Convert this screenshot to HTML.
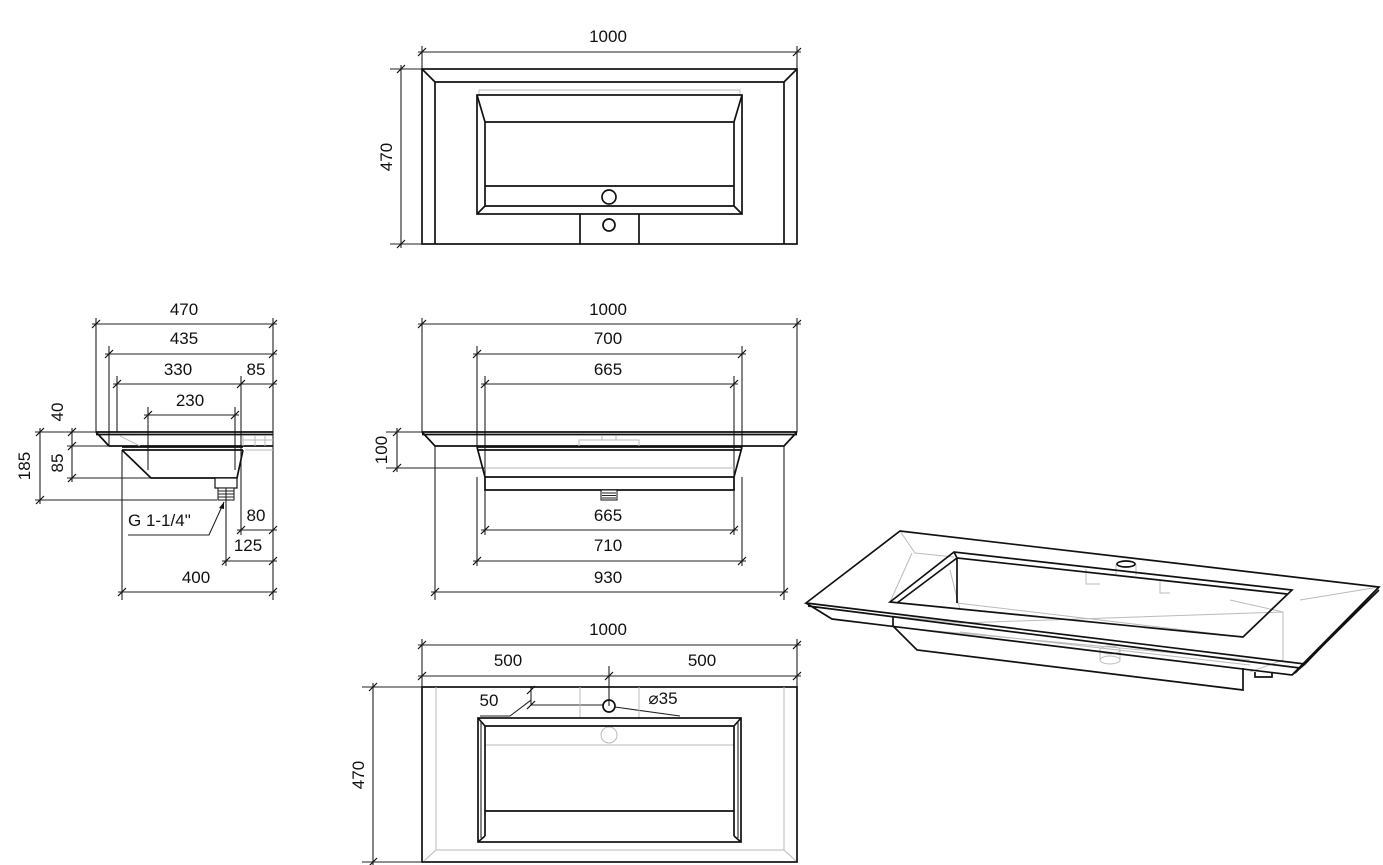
<!DOCTYPE html>
<html><head><meta charset="utf-8"><style>
html,body{margin:0;padding:0;background:#fff;}
svg{display:block;}
text{font-family:"Liberation Sans",sans-serif;font-size:17px;fill:#111;}
.k{stroke:#111;stroke-width:1.7;fill:none;}
.t{stroke:#222;stroke-width:1.1;fill:none;}
.g{stroke:#bbb;stroke-width:1;fill:none;}
</style></head><body>
<svg width="1383" height="865" viewBox="0 0 1383 865" xmlns="http://www.w3.org/2000/svg">
<defs>
<path id="tk" d="M-4,4 L4,-4" stroke="#111" stroke-width="1.2"/>
</defs>

<!-- ================= TOP VIEW ================= -->
<g>
<path class="t" d="M422,46V70 M797,46V70 M418,52H801 M390,69H422 M390,244H422 M401,65V248"/>
<use href="#tk" x="422" y="52"/><use href="#tk" x="797" y="52"/>
<use href="#tk" x="401" y="69"/><use href="#tk" x="401" y="244"/>
<text x="608" y="42" text-anchor="middle">1000</text>
<text transform="translate(392,157) rotate(-90)" text-anchor="middle">470</text>
<rect class="k" x="422" y="69" width="375" height="175"/>
<path class="k" d="M435,244V82H784V244 M422,69L435,82 M797,69L784,82"/>
<path class="g" d="M479,95V90H740V95"/>
<rect class="k" x="477" y="95" width="265" height="119"/>
<path class="k" d="M485,206V122H734V206 M477,95L485,122 M742,95L734,122 M477,214L485,206 M742,214L734,206 M485,206H734"/>
<path class="k" d="M485,186H734"/>
<circle class="k" cx="609" cy="197" r="7"/>
<path class="k" d="M580,214V244 M639,214V244"/>
<circle class="k" cx="609" cy="225" r="6"/>
</g>

<!-- ================= FRONT VIEW ================= -->
<g>
<path class="t" d="M418,324H801 M422,318V432 M797,318V432
 M473,354H746 M477,346V447 M742,346V447
 M481,384H738 M485,376V535 M734,376V535
 M386,432H422 M386,468H485 M397,428V472
 M481,530H738 M473,561H746 M477,477V566 M742,477V566
 M431,592H788 M435,446V600 M784,446V600"/>
<use href="#tk" x="422" y="324"/><use href="#tk" x="797" y="324"/>
<use href="#tk" x="477" y="354"/><use href="#tk" x="742" y="354"/>
<use href="#tk" x="485" y="384"/><use href="#tk" x="734" y="384"/>
<use href="#tk" x="397" y="432"/><use href="#tk" x="397" y="468"/>
<use href="#tk" x="485" y="530"/><use href="#tk" x="734" y="530"/>
<use href="#tk" x="477" y="561"/><use href="#tk" x="742" y="561"/>
<use href="#tk" x="435" y="592"/><use href="#tk" x="784" y="592"/>
<text x="608" y="315" text-anchor="middle">1000</text>
<text x="608" y="344" text-anchor="middle">700</text>
<text x="608" y="375" text-anchor="middle">665</text>
<text x="608" y="521" text-anchor="middle">665</text>
<text x="608" y="551" text-anchor="middle">710</text>
<text x="608" y="583" text-anchor="middle">930</text>
<text transform="translate(387,450) rotate(-90)" text-anchor="middle">100</text>
<path class="k" d="M422,432H797 M422,434.5H797 M422,432L435,446H784L797,432"/>
<path class="g" d="M579,446V440H639V446 M602,440V436 M616,440V436 M485,468H734"/>
<path class="k" d="M477,447H742 M477,450H742 M477,447L485,477H734L742,447 M485,477V490H734V477"/>
<rect x="601" y="490" width="16" height="10" fill="#fff" stroke="#111" stroke-width="1"/>
<path class="t" d="M602,493H616 M602,495.5H616 M602,498H616"/>
</g>

<!-- ================= SIDE VIEW ================= -->
<g>
<path class="t" d="M92,324H277 M96,318V432 M273,318V600
 M105,354H277 M109,346V446
 M113,384H277 M117,376V432 M241,376V535
 M144,415H239 M148,407V470 M235,407V470
 M67,446H109 M67,478H151 M35,432H96 M35,500H217 M72,428V482 M40,428V504
 M237,530H277 M226,500V566 M222,561H277 M122,450V600 M118,592H277"/>
<use href="#tk" x="96" y="324"/><use href="#tk" x="273" y="324"/>
<use href="#tk" x="109" y="354"/><use href="#tk" x="273" y="354"/>
<use href="#tk" x="117" y="384"/><use href="#tk" x="241" y="384"/><use href="#tk" x="273" y="384"/>
<use href="#tk" x="148" y="415"/><use href="#tk" x="235" y="415"/>
<use href="#tk" x="72" y="432"/><use href="#tk" x="72" y="446"/><use href="#tk" x="72" y="478"/>
<use href="#tk" x="40" y="432"/><use href="#tk" x="40" y="500"/>
<use href="#tk" x="241" y="530"/><use href="#tk" x="273" y="530"/>
<use href="#tk" x="226" y="561"/><use href="#tk" x="273" y="561"/>
<use href="#tk" x="122" y="592"/><use href="#tk" x="273" y="592"/>
<text x="184" y="315" text-anchor="middle">470</text>
<text x="184" y="344" text-anchor="middle">435</text>
<text x="178" y="375" text-anchor="middle">330</text>
<text x="256" y="375" text-anchor="middle">85</text>
<text x="190" y="406" text-anchor="middle">230</text>
<text transform="translate(63,412) rotate(-90)" text-anchor="middle">40</text>
<text transform="translate(63,463) rotate(-90)" text-anchor="middle">85</text>
<text transform="translate(30,466) rotate(-90)" text-anchor="middle">185</text>
<text x="256" y="521" text-anchor="middle">80</text>
<text x="248" y="551" text-anchor="middle">125</text>
<text x="196" y="583" text-anchor="middle">400</text>
<text x="128" y="526">G 1-1/4"</text>
<path class="k" d="M96,432H273 M96,434.5H273 M96,432L109,446H273"/>
<path class="g" d="M243,446V436 M255,446V436 M265,446V436 M241,440H273 M245,450H273 M120,436L140,446"/>
<path class="k" d="M122,447H243 M122,450H243 M122,450L151,478H237L243,450"/>
<rect x="215" y="478" width="22" height="10" fill="#fff" stroke="#111" stroke-width="1.2"/>
<rect x="218" y="488" width="16" height="12" fill="#fff" stroke="#111" stroke-width="1"/>
<path class="t" d="M218,491H234 M218,494H234 M218,497H234 M226,488V500"/>
<path class="t" d="M128,535H209L224,502"/>
<path d="M224,502L219,508L224,509Z" fill="#111"/>
</g>

<!-- ================= BOTTOM VIEW ================= -->
<g>
<path class="t" d="M418,645H801 M422,639V687 M797,639V687 M418,676H801 M609,666V706
 M362,687H422 M362,862H422 M373,683V865
 M531,686V705H603 M480,716H510L531,700 M615,707L680,716"/>
<use href="#tk" x="422" y="645"/><use href="#tk" x="797" y="645"/>
<use href="#tk" x="422" y="676"/><use href="#tk" x="609" y="676"/><use href="#tk" x="797" y="676"/>
<use href="#tk" x="373" y="687"/><use href="#tk" x="373" y="862"/>
<use href="#tk" x="531" y="690"/><use href="#tk" x="531" y="705"/>
<text x="608" y="635" text-anchor="middle">1000</text>
<text x="508" y="666" text-anchor="middle">500</text>
<text x="702" y="666" text-anchor="middle">500</text>
<text x="489" y="706" text-anchor="middle">50</text>
<text x="663" y="704" text-anchor="middle">⌀35</text>
<text transform="translate(364,775) rotate(-90)" text-anchor="middle">470</text>
<rect class="k" x="422" y="687" width="375" height="175"/>
<path class="g" d="M436,687V850H784V687 M436,850L424,861 M784,850L796,861 M580,687V718 M639,687V718 M485,745H734"/>
<circle class="g" cx="609" cy="735" r="8"/>
<circle class="k" cx="609" cy="706" r="6"/>
<rect class="k" x="478" y="718" width="263" height="124"/>
<path class="k" d="M485,836V726H734V836 M478,718L485,726 M741,718L734,726 M478,842L485,836 M741,842L734,836 M485,811H734"/>
<path class="t" d="M481,721V838 M738,721V838"/>
</g>

<!-- ================= ISO VIEW ================= -->
<g>
<path class="g" d="M900,531L915,553L954,557 M806,603L830,618 M912,553L890,602 M957,603L1243,637
 M893,616L960,623L1283,612 M950,570L960,610 M893,627L1250,660 M960,632L1250,665 M1230,600L1283,612L1283,660L1250,672
 M1086,569L1086,584L1100,584 M1160,580L1160,593L1170,593 M1116,564V575 M1136,564V575 M1300,600L1379,587"/>
<ellipse class="g" cx="1110" cy="660" rx="10" ry="4"/>
<path class="g" d="M1100,660V650 M1120,660V650"/>
<ellipse class="g" cx="1110" cy="650" rx="10" ry="4"/>
<path class="k" d="M806,603L900,531L1379,587L1305,664Z"/>
<path class="k" d="M806,603L832,619L1292,675L1305,664 M1379,587L1292,675 M1379,590L1295,673 M808,606L1300,668"/>
<path class="k" d="M890,602L954,552L1292,590L1243,637Z"/>
<path class="k" d="M954,552L957,558L1287,594 M957,558L957,603 M897,603L957,558"/>
<path class="k" d="M893,626L917,650L1243,690L1243,668 M893,626L893,616"/>
<path class="k" d="M1255,672V677H1272V672"/>
<ellipse class="k" cx="1126" cy="564" rx="9" ry="3"/>
</g>
</svg>
</body></html>
